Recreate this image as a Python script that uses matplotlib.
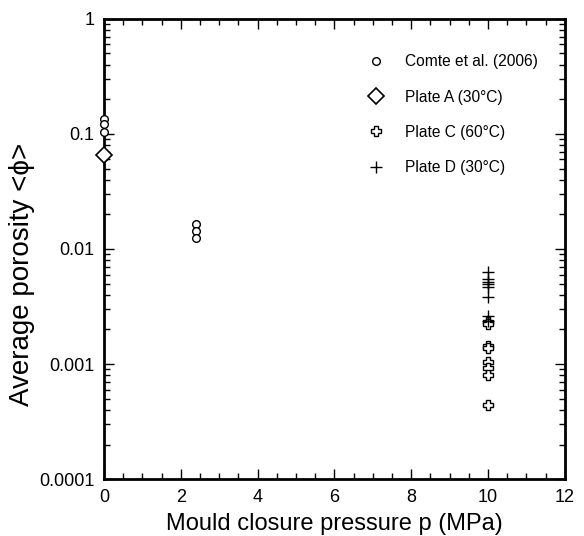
import matplotlib.pyplot as plt
from matplotlib.ticker import FixedLocator, FixedFormatter, MultipleLocator, LogLocator, NullFormatter

plt.rcParams['font.family'] = ['Liberation Sans', 'DejaVu Sans']

# Comte et al. (2006)
comte_p = [0.0, 0.0, 0.0, 0.0, 2.4, 2.4, 2.4]
comte_phi = [0.134, 0.121, 0.104, 0.063, 0.0165, 0.0143, 0.0125]

# Plate A (30 C)
plate_a_p = [0.0]
plate_a_phi = [0.066]

# Plate C (60 C)
plate_c_p = [10, 10, 10, 10, 10, 10, 10, 10]
plate_c_phi = [0.00233, 0.00225, 0.00144, 0.00138, 0.00105, 0.00092, 0.0008, 0.00044]

# Plate D (30 C)
plate_d_p = [10, 10, 10, 10, 10, 10, 10, 10]
plate_d_phi = [0.00635, 0.00545, 0.0052, 0.00496, 0.0047, 0.00385, 0.00263, 0.00237]

y_ticks = [1, 0.1, 0.01, 0.001, 0.0001]
y_tick_labels = ['1', '0.1', '0.01', '0.001', '0.0001']

fig = plt.figure(figsize=(5.84, 5.36), dpi=100)
ax = fig.add_axes([0.178, 0.106, 0.789, 0.859])

ax.plot(comte_p, comte_phi, linestyle='none', marker='o', markersize=5.5,
        markerfacecolor='white', markeredgecolor='black', markeredgewidth=1.0,
        label='Comte et al. (2006)', clip_on=False, zorder=3)
ax.plot(plate_a_p, plate_a_phi, linestyle='none', marker='D', markersize=8,
        markerfacecolor='white', markeredgecolor='black', markeredgewidth=1.2,
        label='Plate A (30°C)', clip_on=False, zorder=4)
ax.plot(plate_c_p, plate_c_phi, linestyle='none', marker='P', markersize=6.5,
        markerfacecolor='white', markeredgecolor='black', markeredgewidth=1.0,
        label='Plate C (60°C)', zorder=3)
ax.plot(plate_d_p, plate_d_phi, linestyle='none', marker='+', markersize=8,
        markeredgecolor='black', markeredgewidth=1.0,
        label='Plate D (30°C)', zorder=3)

ax.set_yscale('log')
ax.set_xlim(0, 12)
ax.set_ylim(0.0001, 1)

ax.xaxis.set_major_locator(MultipleLocator(2))
ax.xaxis.set_minor_locator(MultipleLocator(0.5))
ax.yaxis.set_major_locator(FixedLocator(y_ticks))
ax.yaxis.set_major_formatter(FixedFormatter(y_tick_labels))
ax.yaxis.set_minor_locator(LogLocator(base=10, subs=range(2, 10)))
ax.yaxis.set_minor_formatter(NullFormatter())

ax.tick_params(which='both', direction='in', top=True, right=True, width=1.0)
ax.tick_params(which='major', length=7, labelsize=13, pad=7)
ax.tick_params(which='minor', length=4)
for s in ax.spines.values():
    s.set_linewidth(2)

ax.set_xlabel('Mould closure pressure p (MPa)', fontsize=17, labelpad=5)
ax.set_ylabel('Average porosity <ϕ>', fontsize=20)
ax.yaxis.set_label_coords(-0.15, 0.445)

ax.legend(loc='upper right', bbox_to_anchor=(0.979, 0.96), frameon=False,
          fontsize=11.2, handletextpad=0.9, labelspacing=1.3, borderpad=0.6,
          numpoints=1)

fig.savefig('out.png', dpi=100)
